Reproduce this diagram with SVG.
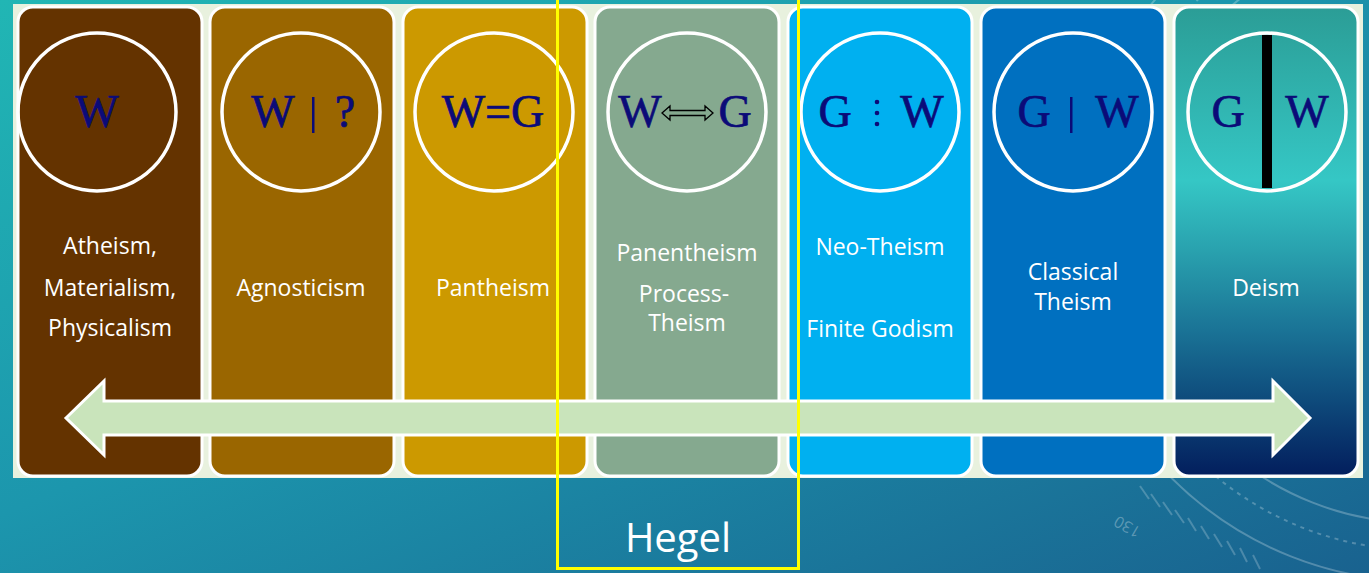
<svg xmlns="http://www.w3.org/2000/svg" width="1369" height="573" viewBox="0 0 1369 573">
<defs>
<linearGradient id="bg" x1="0" y1="0" x2="1" y2="1">
<stop offset="0" stop-color="#21b6b4"/>
<stop offset="0.45" stop-color="#1c96ad"/>
<stop offset="1" stop-color="#19628f"/>
</linearGradient>
<linearGradient id="deism" x1="0" y1="0" x2="0" y2="1">
<stop offset="0" stop-color="#2b9d96"/>
<stop offset="0.37" stop-color="#35c7c5"/>
<stop offset="0.52" stop-color="#29a1ae"/>
<stop offset="0.69" stop-color="#1a7396"/>
<stop offset="0.84" stop-color="#0e4a7b"/>
<stop offset="1" stop-color="#031e5d"/>
</linearGradient>
<style>
.box{stroke:#ffffff;stroke-width:3}
.ring{fill:none;stroke:#ffffff;stroke-width:3.5}
.sym{font-family:"Liberation Serif","Times New Roman",serif;font-size:46px;fill:#0b0b78;stroke:#0b0b78;stroke-width:0.7;text-anchor:middle}
.lbl{font-family:"Open Sans","Noto Sans",sans-serif;font-size:23px;fill:#ffffff;text-anchor:middle}
.deco{fill:none;stroke:#ffffff;stroke-opacity:0.25;stroke-width:2}
</style>
</defs>
<rect width="1369" height="573" fill="url(#bg)"/>
<g id="decor">
<circle cx="1420" cy="230" r="351" class="deco"/>
<circle cx="1420" cy="230" r="293" class="deco"/>
<circle cx="1420" cy="230" r="320" class="deco" stroke-dasharray="4 5"/>
<g stroke="#ffffff" stroke-opacity="0.22" stroke-width="2">
<line x1="1140" y1="486" x2="1149" y2="499"/>
<line x1="1151" y1="494" x2="1160" y2="507"/>
<line x1="1163" y1="502" x2="1172" y2="515"/>
<line x1="1175" y1="510" x2="1184" y2="523"/>
<line x1="1188" y1="518" x2="1196" y2="531"/>
<line x1="1201" y1="526" x2="1209" y2="539"/>
<line x1="1214" y1="534" x2="1222" y2="547"/>
<line x1="1227" y1="541" x2="1235" y2="555"/>
<line x1="1240" y1="548" x2="1247" y2="562"/>
<line x1="1253" y1="555" x2="1260" y2="569"/>
</g>
<text x="1130" y="522" transform="rotate(210 1130 522)" font-family="Open Sans, sans-serif" font-size="16" fill="#ffffff" fill-opacity="0.3" text-anchor="middle">130</text>
</g>
<rect x="13" y="4" width="1350" height="474" fill="#e8f1de"/>
<g id="atheism">
<rect class="box" x="18" y="7" width="184" height="469" rx="15" fill="#643300"/>
<circle class="ring" cx="97" cy="112" r="79"/>
<text class="sym" x="97" y="127">W</text>
<text class="lbl" x="110" y="254">Atheism,</text>
<text class="lbl" x="110" y="296">Materialism,</text>
<text class="lbl" x="110" y="336">Physicalism</text>
</g>
<g id="agnosticism">
<rect class="box" x="210" y="7" width="184" height="469" rx="15" fill="#9a6600"/>
<circle class="ring" cx="301" cy="112" r="79"/>
<text class="sym" x="273" y="127">W</text>
<rect x="312" y="97" width="2.5" height="36" fill="#0b0b78"/>
<text class="sym" x="345" y="127">?</text>
<text class="lbl" x="301" y="296">Agnosticism</text>
</g>
<g id="pantheism">
<rect class="box" x="403" y="7" width="184" height="469" rx="15" fill="#cc9900"/>
<circle class="ring" cx="494" cy="112" r="79"/>
<text class="sym" x="493" y="127">W=G</text>
<text class="lbl" x="493" y="296">Pantheism</text>
</g>
<g id="panentheism">
<rect class="box" x="595" y="7" width="184" height="469" rx="15" fill="#85a98f"/>
<circle class="ring" cx="687" cy="112" r="79"/>
<text class="sym" x="640" y="127">W</text>
<polygon points="662,113 670,106 670,110.5 705,110.5 705,106 713,113 705,120 705,115.5 670,115.5 670,120" fill="none" stroke="#000000" stroke-width="1.3" stroke-linejoin="miter"/>
<text class="sym" x="735" y="127">G</text>
<text class="lbl" x="687" y="261">Panentheism</text>
<text class="lbl" x="684" y="302">Process-</text>
<text class="lbl" x="687" y="331">Theism</text>
</g>
<g id="neotheism">
<rect class="box" x="788" y="7" width="184" height="469" rx="15" fill="#00b0f0"/>
<circle class="ring" cx="880" cy="112" r="79"/>
<text class="sym" x="835" y="127">G</text>
<circle cx="877" cy="102" r="2.3" fill="#0b0b78"/>
<circle cx="877" cy="113" r="2.3" fill="#0b0b78"/>
<circle cx="877" cy="124" r="2.3" fill="#0b0b78"/>
<text class="sym" x="922" y="127">W</text>
<text class="lbl" x="880" y="255">Neo-Theism</text>
<text class="lbl" x="880" y="337">Finite Godism</text>
</g>
<g id="classical">
<rect class="box" x="981" y="7" width="184" height="469" rx="15" fill="#0070c0"/>
<circle class="ring" cx="1073" cy="112" r="79"/>
<text class="sym" x="1034" y="127">G</text>
<rect x="1070" y="97" width="2.5" height="36" fill="#0b0b78"/>
<text class="sym" x="1117" y="127">W</text>
<text class="lbl" x="1073" y="280">Classical</text>
<text class="lbl" x="1073" y="310">Theism</text>
</g>
<g id="deism">
<rect class="box" x="1174" y="7" width="184" height="469" rx="15" fill="url(#deism)"/>
<circle class="ring" cx="1267" cy="112" r="79"/>
<rect x="1262" y="35" width="10" height="153" fill="#000000"/>
<text class="sym" x="1228" y="127">G</text>
<text class="sym" x="1307" y="127">W</text>
<text class="lbl" x="1266" y="296">Deism</text>
</g>
<g id="connectors">
<polygon points="66,418 104,381 104,401 1273,401 1273,381 1310,418 1273,455 1273,435 104,435 104,455" fill="#c9e4bb" stroke="#ffffff" stroke-width="3" stroke-linejoin="miter"/>
</g>
<g id="hegel">
<rect x="557.5" y="-5" width="241" height="573.5" fill="none" stroke="#ffff00" stroke-width="3"/>
<text x="678" y="552" font-family="Open Sans, Noto Sans, sans-serif" font-size="40" fill="#ffffff" text-anchor="middle">Hegel</text>
</g>
</svg>
